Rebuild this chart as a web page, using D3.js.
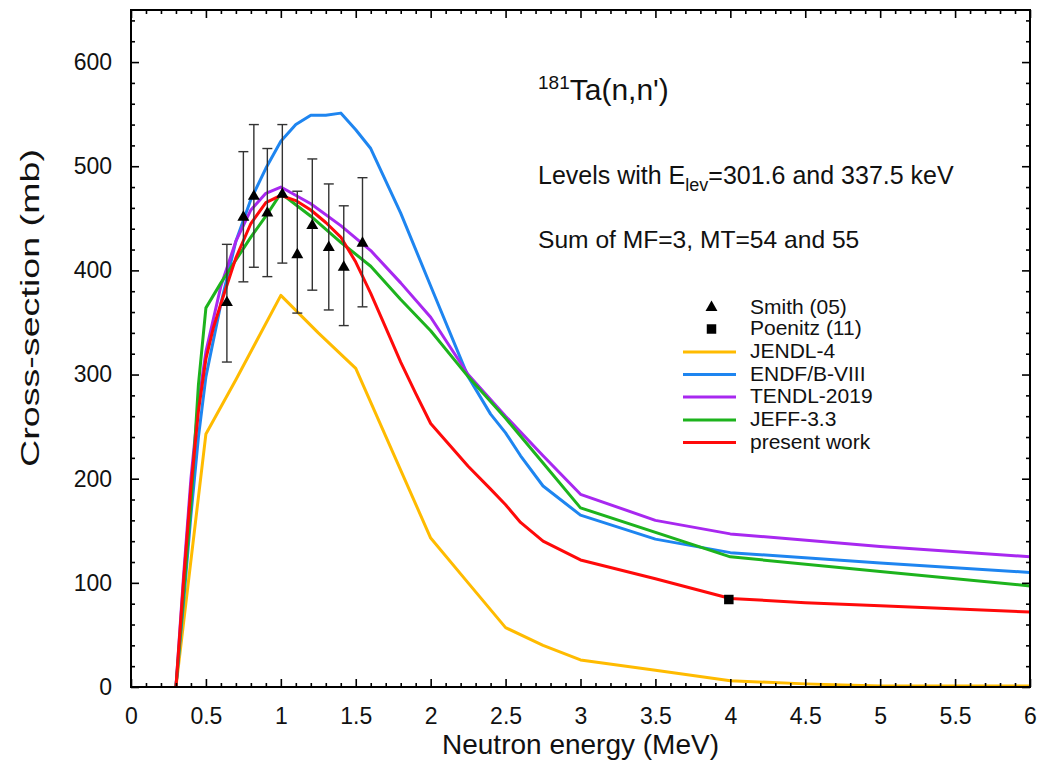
<!DOCTYPE html>
<html>
<head>
<meta charset="utf-8">
<script src="https://cdn.jsdelivr.net/npm/d3@7"></script>
<style>
  html, body { margin: 0; padding: 0; background: #fff; }
  svg { display: block; font-family: "Liberation Sans", Arial, sans-serif; }
</style>
</head>
<body>
<svg id="chart" width="1040" height="773"></svg>
<script>
// ---------- data ----------
const jendlE = [0.3, 0.5, 0.7, 1.0, 1.25, 1.5, 2.0, 2.25, 2.5, 2.75, 3.0, 3.5, 4.0, 4.5, 4.75, 5.0, 6.0];
const jendlS = [0, 243, 295, 376, 340, 306, 143, 100, 57, 40, 26, 16, 6, 3, 2, 1, 1];

const endfE = [0.3, 0.35, 0.4, 0.45, 0.5, 0.6, 0.7, 0.8, 0.9, 1.0, 1.1, 1.2, 1.3, 1.4, 1.5, 1.6, 1.8, 2.0, 2.25, 2.4, 2.5, 2.6, 2.75, 3.0, 3.5, 4.0, 5.0, 6.0];
const endfS = [0, 80, 165, 240, 298, 368, 428, 468, 498, 524, 540, 549, 549, 551, 535, 517, 455, 385, 298, 262, 244, 222, 193, 165, 142, 129, 119, 110];

const tendlE = [0.3, 0.35, 0.4, 0.45, 0.5, 0.6, 0.7, 0.8, 0.9, 1.0, 1.2, 1.4, 1.6, 1.8, 2.0, 2.25, 2.5, 2.75, 3.0, 3.5, 4.0, 5.0, 6.0];
const tendlS = [0, 105, 200, 272, 322, 385, 428, 458, 474, 480, 464, 443, 419, 388, 355, 300, 260, 222, 185, 160, 147, 135, 125];

const jeffE = [0.3, 0.4, 0.45, 0.5, 0.6, 0.7, 0.8, 0.9, 1.0, 1.2, 1.4, 1.6, 1.8, 2.0, 2.25, 2.5, 2.75, 3.0, 4.0, 5.0, 6.0];
const jeffS = [0, 175, 290, 364, 388, 410, 432, 452, 474, 452, 427, 404, 372, 342, 298, 258, 215, 172, 125, 111, 97];

const presE = [0.3, 0.35, 0.4, 0.45, 0.5, 0.55, 0.6, 0.7, 0.8, 0.9, 1.0, 1.1, 1.2, 1.3, 1.4, 1.5, 1.6, 1.7, 1.8, 1.9, 2.0, 2.25, 2.4, 2.5, 2.6, 2.75, 3.0, 3.5, 4.0, 4.5, 5.0, 6.0];
const presS = [0, 100, 192, 265, 315, 345, 368, 412, 445, 465, 472, 467, 458, 446, 432, 408, 378, 345, 312, 282, 253, 212, 190, 175, 158, 140, 122, 104, 85, 81, 78, 72];

const smithE  = [0.64, 0.75, 0.82, 0.91, 1.01, 1.11, 1.21, 1.32, 1.42, 1.545];
const smithS  = [370, 452, 472, 456, 474, 416, 444, 423, 404, 427];
const smithHi = [425, 514, 540, 517, 540, 476, 507, 483, 462, 489];
const smithLo = [312, 389, 403, 394, 407, 359, 381, 362, 347, 365];

const poenitzE = [3.99];
const poenitzS = [84];

const xTicks = [0, 0.5, 1, 1.5, 2, 2.5, 3, 3.5, 4, 4.5, 5, 5.5, 6];
const xTickLabels = ["0", "0.5", "1", "1.5", "2", "2.5", "3", "3.5", "4", "4.5", "5", "5.5", "6"];
const yTicks = [0, 100, 200, 300, 400, 500, 600];
const yTickLabels = ["0", "100", "200", "300", "400", "500", "600"];

const seriesNames = ["JENDL-4", "ENDF/B-VIII", "TENDL-2019", "JEFF-3.3", "present work"];
const seriesColors = ["#FFBB00", "#1E85F0", "#A828F0", "#1DB31D", "#FF0A0A"];

// ---------- layout ----------
const svg = d3.select("#chart");
const X0 = 131, X1 = 1030, Y0 = 687, Y1 = 10;
const x = d3.scaleLinear().domain([0, 6]).range([X0, X1]);
const y = d3.scaleLinear().domain([0, 650]).range([Y0, Y1]);

// ---------- curves ----------
const curves = [
  {E: jendlE, S: jendlS},
  {E: endfE, S: endfS},
  {E: tendlE, S: tendlS},
  {E: jeffE, S: jeffS},
  {E: presE, S: presS}
];
const line = d3.line().x(d => x(d[0])).y(d => y(d[1]));
svg.append("defs").append("clipPath").attr("id", "plotclip")
  .append("rect").attr("x", X0).attr("y", Y1).attr("width", X1 - X0).attr("height", Y0 - Y1);
const plot = svg.append("g").attr("clip-path", "url(#plotclip)");
curves.forEach((c, i) => {
  plot.append("path")
    .attr("d", line(c.E.map((e, j) => [e, c.S[j]])))
    .attr("fill", "none")
    .attr("stroke", seriesColors[i])
    .attr("stroke-width", 3)
    .attr("stroke-linejoin", "round");
});

// ---------- experimental data ----------
const smith = smithE.map((e, i) => ({e, s: smithS[i], lo: smithLo[i], hi: smithHi[i]}));
const eb = plot.append("g").attr("stroke", "#333").attr("stroke-width", 1.4);
smith.forEach(d => {
  eb.append("line").attr("x1", x(d.e)).attr("x2", x(d.e)).attr("y1", y(d.lo)).attr("y2", y(d.hi));
  eb.append("line").attr("x1", x(d.e) - 5).attr("x2", x(d.e) + 5).attr("y1", y(d.lo)).attr("y2", y(d.lo));
  eb.append("line").attr("x1", x(d.e) - 5).attr("x2", x(d.e) + 5).attr("y1", y(d.hi)).attr("y2", y(d.hi));
});
const tri = d3.symbol().type(d3.symbolTriangle).size(62);
plot.selectAll(".smith").data(smith).join("path")
  .attr("d", tri)
  .attr("transform", d => `translate(${x(d.e)},${y(d.s) + 1})`)
  .attr("fill", "#000");
const sq = d3.symbol().type(d3.symbolSquare).size(90);
plot.selectAll(".poen").data(poenitzE.map((e, i) => ({e, s: poenitzS[i]}))).join("path")
  .attr("d", sq)
  .attr("transform", d => `translate(${x(d.e)},${y(d.s)})`)
  .attr("fill", "#000");

// ---------- axes ----------
const xMinor = d3.range(0, 61).map(i => i / 10).filter(v => !xTicks.some(t => Math.abs(t - v) < 1e-9));
const yMinor = d3.range(0, 33).map(i => i * 20).filter(v => v % 100 !== 0);

function styleAxis(g) {
  g.select(".domain").remove();
  g.selectAll(".tick line").attr("stroke", "#000").attr("stroke-width", 1.6);
  g.selectAll(".tick text").attr("fill", "#111").style("font-size", "23px").style("font-family", "Liberation Sans, Arial, sans-serif");
}
svg.append("g").attr("transform", `translate(0,${Y0})`)
  .call(d3.axisBottom(x).tickValues(xTicks).tickSize(-8).tickPadding(21).tickFormat((d, i) => xTickLabels[i]))
  .call(styleAxis);
svg.append("g").attr("transform", `translate(0,${Y0})`)
  .call(d3.axisBottom(x).tickValues(xMinor).tickSize(-4).tickFormat(""))
  .call(styleAxis);
svg.append("g").attr("transform", `translate(0,${Y1})`)
  .call(d3.axisTop(x).tickValues(xTicks).tickSize(-8).tickFormat(""))
  .call(styleAxis);
svg.append("g").attr("transform", `translate(0,${Y1})`)
  .call(d3.axisTop(x).tickValues(xMinor).tickSize(-4).tickFormat(""))
  .call(styleAxis);
svg.append("g").attr("transform", `translate(${X0},0)`)
  .call(d3.axisLeft(y).tickValues(yTicks).tickSize(-8).tickPadding(19).tickFormat((d, i) => yTickLabels[i]))
  .call(styleAxis);
svg.append("g").attr("transform", `translate(${X0},0)`)
  .call(d3.axisLeft(y).tickValues(yMinor).tickSize(-4).tickFormat(""))
  .call(styleAxis);
svg.append("g").attr("transform", `translate(${X1},0)`)
  .call(d3.axisRight(y).tickValues(yTicks).tickSize(-8).tickFormat(""))
  .call(styleAxis);
svg.append("g").attr("transform", `translate(${X1},0)`)
  .call(d3.axisRight(y).tickValues(yMinor).tickSize(-4).tickFormat(""))
  .call(styleAxis);

svg.append("rect").attr("x", X0).attr("y", Y1).attr("width", X1 - X0).attr("height", Y0 - Y1)
  .attr("fill", "none").attr("stroke", "#000").attr("stroke-width", 2);

// axis titles
svg.append("text").attr("x", (X0 + X1) / 2).attr("y", 754).attr("text-anchor", "middle")
  .style("font-size", "28px").attr("fill", "#111").text("Neutron energy (MeV)");
svg.append("text").attr("transform", "translate(39,308) rotate(-90)").attr("text-anchor", "middle")
  .style("font-size", "26px").attr("fill", "#111")
  .attr("textLength", 318).attr("lengthAdjust", "spacingAndGlyphs")
  .text("Cross-section (mb)");

// annotations
const t1 = svg.append("text").attr("x", 538).attr("y", 100).attr("fill", "#111");
t1.append("tspan").style("font-size", "19px").attr("dy", -11).text("181");
t1.append("tspan").style("font-size", "30px").attr("dy", 11).text("Ta(n,n')");

const t2 = svg.append("text").attr("x", 538).attr("y", 184).attr("fill", "#111").style("font-size", "25px");
t2.append("tspan").text("Levels with E");
t2.append("tspan").style("font-size", "18px").attr("dy", 7).text("lev");
t2.append("tspan").attr("dy", -7).text("=301.6 and 337.5 keV");

svg.append("text").attr("x", 538).attr("y", 248).attr("fill", "#111").style("font-size", "24.6px")
  .text("Sum of MF=3, MT=54 and 55");

// legend
const legY = [306.5, 329, 352, 374.5, 397, 420, 442.5];
const lg = svg.append("g").style("font-size", "21px").attr("fill", "#111");
lg.append("path").attr("d", tri).attr("transform", `translate(711.5,${legY[0] + 1})`).attr("fill", "#000");
lg.append("text").attr("x", 750).attr("y", legY[0]).attr("dy", "0.35em").text("Smith (05)");
lg.append("path").attr("d", sq).attr("transform", `translate(711.5,${legY[1]})`).attr("fill", "#000");
lg.append("text").attr("x", 750).attr("y", legY[1] - 1).attr("dy", "0.35em").text("Poenitz (11)");
seriesNames.forEach((n, i) => {
  const yy = legY[i + 2];
  lg.append("line").attr("x1", 683).attr("x2", 736).attr("y1", yy).attr("y2", yy)
    .attr("stroke", seriesColors[i]).attr("stroke-width", 3);
  lg.append("text").attr("x", 750).attr("y", yy - 1).attr("dy", "0.35em").text(n);
});
</script>
</body>
</html>
